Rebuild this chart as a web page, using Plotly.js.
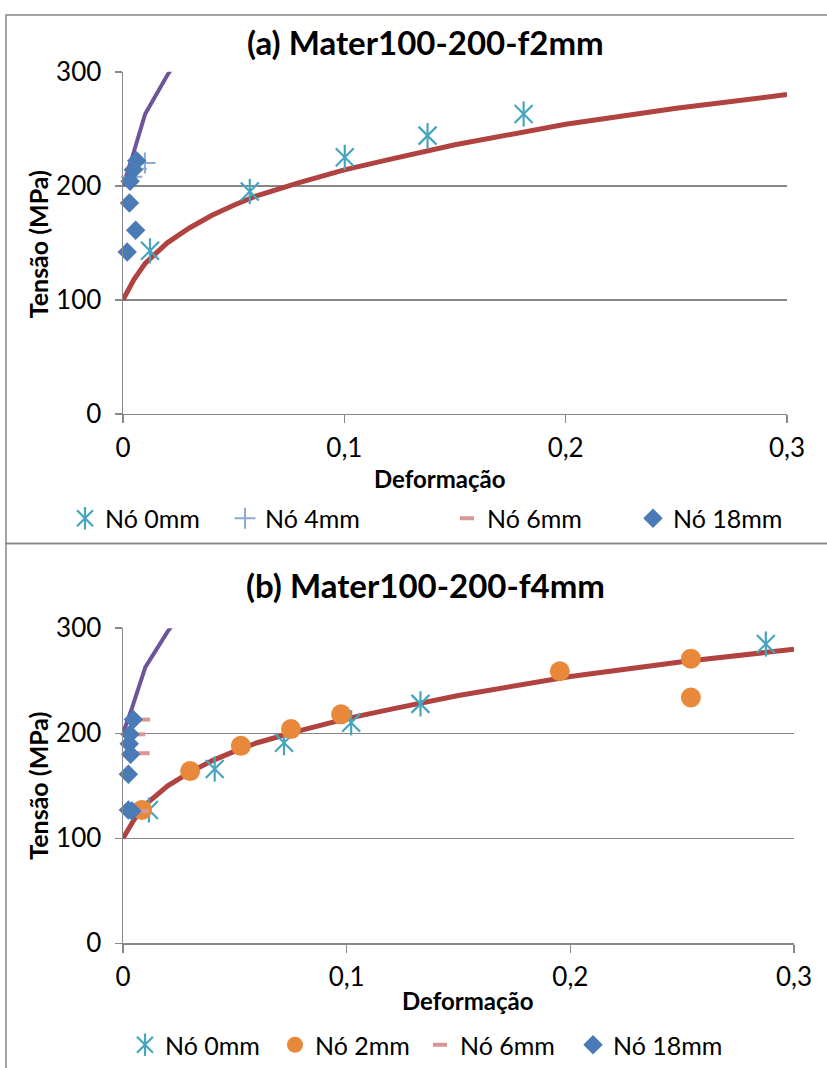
<!DOCTYPE html>
<html>
<head>
<meta charset="utf-8">
<script src="https://cdn.plot.ly/plotly-3.0.1.min.js"></script>
<style>
  html, body { margin: 0; padding: 0; background: #ffffff; }
  #chart { width: 827px; height: 1068px; }
</style>
</head>
<body>
<div id="chart"></div>
<script>
// Material law curves (strain, stress in MPa)
const curveStrain = [0, 0.005, 0.01, 0.02, 0.03, 0.04, 0.05, 0.06, 0.08, 0.1, 0.12, 0.15, 0.2, 0.25, 0.3];
const curveStress = [100, 118, 132, 150, 163, 174, 183, 191, 203, 214, 223, 236, 254, 268, 280];
const stiffStrain = [0, 0.004, 0.01, 0.02, 0.03];
const stiffStress = [200, 224, 263, 297, 325];

// (a) Mater100-200-f2mm nodal results
const aNo0Strain = [0.0122, 0.0573, 0.1002, 0.1376, 0.181];
const aNo0Stress = [143, 195, 225, 244, 263];
const aNo4Strain = [0.0099, 0.006, 0.004];
const aNo4Stress = [220, 215, 208];
const aNo6Strain = [0.004, 0.003];
const aNo6Stress = [213, 204];
const aNo18Strain = [0.0062, 0.0047, 0.0032, 0.0029, 0.0057, 0.0019];
const aNo18Stress = [222, 214, 204, 185, 161, 142];

// (b) Mater100-200-f4mm nodal results
const bNo0Strain = [0.0116, 0.041, 0.072, 0.102, 0.133, 0.2874];
const bNo0Stress = [127, 166, 191, 210, 228, 285];
const bNo2Strain = [0.0085, 0.030, 0.0527, 0.0751, 0.0975, 0.1953, 0.2539, 0.2539];
const bNo2Stress = [127, 164, 188, 204, 218, 259, 271, 234];
const bNo6Strain = [0.009, 0.0068, 0.0088, 0.0083];
const bNo6Stress = [213, 199, 181, 126];
const bNo18Strain = [0.0046, 0.0031, 0.0028, 0.0034, 0.0024, 0.0024, 0.0040];
const bNo18Stress = [213, 199, 190, 180, 161, 127, 126];

const xTicks = [0, 0.1, 0.2, 0.3];
const yTicks = [0, 100, 200, 300];

const W = 827, H = 1068;
const px = v => v / W;
const py = v => 1 - v / H;

const C = {
  red: '#B04340', purple: '#6E559A', teal: '#46A5BE', plus: '#8DA9D4',
  pink: '#D99694', blue: '#4A7BB7', orange: '#E8883A', grid: '#878787'
};
const FONT = 'Lato, sans-serif';

function curves(xa, ya) {
  return [
    { x: curveStrain, y: curveStress, xaxis: xa, yaxis: ya, mode: 'lines', showlegend: false,
      line: { color: C.red, width: 5 }, hoverinfo: 'skip' },
    { x: stiffStrain, y: stiffStress, xaxis: xa, yaxis: ya, mode: 'lines', showlegend: false,
      line: { color: C.purple, width: 4 }, hoverinfo: 'skip' }
  ];
}

// six-armed star: an x plus a vertical bar drawn on top of each other
function star(x, y, xa, ya, lg1, lg2) {
  return [
    { x: x, y: y, xaxis: xa, yaxis: ya, mode: 'markers', name: 'Nó 0mm', legend: lg1, cliponaxis: false,
      marker: { symbol: 'x-thin-open', size: 18, color: C.teal, line: { color: C.teal, width: 2.2 } } },
    { x: x, y: y, xaxis: xa, yaxis: ya, mode: 'markers', name: '', legend: lg2, cliponaxis: false,
      marker: { symbol: 'line-ns-open', size: 18, color: C.teal, line: { color: C.teal, width: 2.2 } } }
  ];
}

function pts(x, y, xa, ya, name, lg, marker) {
  return { x: x, y: y, xaxis: xa, yaxis: ya, mode: 'markers', name: name, legend: lg,
           cliponaxis: false, marker: marker };
}

const data = [].concat(
  curves('x', 'y'),
  star(aNo0Strain, aNo0Stress, 'x', 'y', 'legend', 'legend2'),
  [pts(aNo4Strain, aNo4Stress, 'x', 'y', 'Nó 4mm', 'legend3',
       { symbol: 'cross-thin-open', size: 15, color: C.plus, line: { color: C.plus, width: 2 } }),
   pts(aNo6Strain, aNo6Stress, 'x', 'y', 'Nó 6mm', 'legend4',
       { symbol: 'line-ew-open', size: 10, color: C.pink, line: { color: C.pink, width: 4 } }),
   pts(aNo18Strain, aNo18Stress, 'x', 'y', 'Nó 18mm', 'legend5',
       { symbol: 'diamond', size: 15, color: C.blue, line: { width: 0 } })],
  curves('x2', 'y2'),
  star(bNo0Strain, bNo0Stress, 'x2', 'y2', 'legend6', 'legend7'),
  [pts(bNo2Strain, bNo2Stress, 'x2', 'y2', 'Nó 2mm', 'legend8',
       { symbol: 'circle', size: 20, color: C.orange, line: { width: 0 } }),
   pts(bNo6Strain, bNo6Stress, 'x2', 'y2', 'Nó 6mm', 'legend9',
       { symbol: 'line-ew-open', size: 10, color: C.pink, line: { color: C.pink, width: 4 } }),
   pts(bNo18Strain, bNo18Stress, 'x2', 'y2', 'Nó 18mm', 'legend10',
       { symbol: 'diamond', size: 15, color: C.blue, line: { width: 0 } })]
);

const tickFont = { family: FONT, size: 26, color: '#000' };

function xAxis(d, anchor) {
  return { domain: d, anchor: anchor, range: [0, 0.3], tickvals: xTicks,
           showgrid: false, zeroline: false, showline: true, linecolor: C.grid, linewidth: 1.5,
           ticks: 'outside', ticklen: 8, tickwidth: 1.5, tickcolor: C.grid, tickfont: tickFont,
           ticklabelstandoff: 2, fixedrange: true };
}
function yAxis(d, anchor) {
  return { domain: d, anchor: anchor, range: [0, 300], tickvals: yTicks,
           showgrid: true, gridcolor: C.grid, gridwidth: 1.5, zeroline: false, showline: true,
           linecolor: C.grid, linewidth: 1.5, ticks: 'outside', ticklen: 7, tickwidth: 1.5,
           tickcolor: C.grid, tickfont: tickFont, ticklabelstandoff: 8, fixedrange: true };
}

function legendAt(textLeft, yc) {
  return { x: px(textLeft - 40), xanchor: 'left', y: py(yc), yanchor: 'middle',
           orientation: 'h', bgcolor: 'rgba(0,0,0,0)', borderwidth: 0,
           font: { family: FONT, size: 25, color: '#000' } };
}

function label(text, x, y, size, angle) {
  return { text: '<b>' + text + '</b>', xref: 'paper', yref: 'paper', x: px(x), y: py(y),
           xanchor: 'center', yanchor: 'middle', textangle: angle || 0, showarrow: false,
           font: { family: FONT, size: size, color: '#000' } };
}

const layout = {
  width: W, height: H,
  margin: { l: 0, r: 0, t: 0, b: 0 },
  separators: ',.',
  paper_bgcolor: '#ffffff', plot_bgcolor: 'rgba(0,0,0,0)',
  font: { family: FONT, color: '#000' },
  xaxis: xAxis([px(123), px(787)], 'y'),
  yaxis: yAxis([py(415), py(72)], 'x'),
  xaxis2: xAxis([px(123), px(794)], 'y2'),
  yaxis2: yAxis([py(946), py(630)], 'x2'),
  legend: legendAt(105, 520),
  legend2: legendAt(105, 520),
  legend3: legendAt(265, 520),
  legend4: legendAt(487, 520),
  legend5: legendAt(673, 520),
  legend6: legendAt(165, 1048),
  legend7: legendAt(165, 1048),
  legend8: legendAt(315, 1048),
  legend9: legendAt(460, 1048),
  legend10: legendAt(613, 1048),
  shapes: [
    { type: 'rect', xref: 'paper', yref: 'paper', x0: px(6), x1: 1.05, y0: py(545), y1: py(15),
      line: { color: C.grid, width: 1.5 }, layer: 'below' },
    { type: 'rect', xref: 'paper', yref: 'paper', x0: px(6), x1: 1.05, y0: -0.05, y1: py(545),
      line: { color: C.grid, width: 1.5 }, layer: 'below' }
  ],
  annotations: [
    label('(a) Mater100-200-f2mm', 425, 42, 33),
    label('Tensão (MPa)', 38, 245, 25, -90),
    label('Deformação', 440, 480, 24),
    label('(b) Mater100-200-f4mm', 425, 587, 33),
    label('Tensão (MPa)', 38, 788, 25, -90),
    label('Deformação', 468, 1003, 24)
  ]
};

Plotly.newPlot('chart', data, layout, { displayModeBar: false, staticPlot: true });
</script>
</body>
</html>
